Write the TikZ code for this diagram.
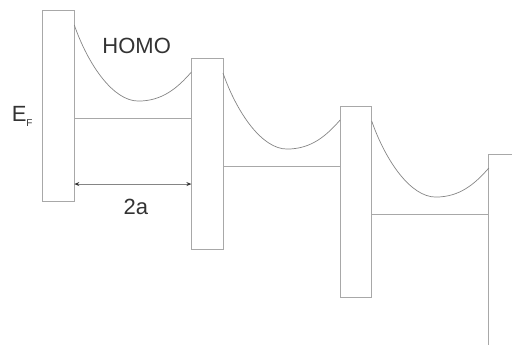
\documentclass[tikz,border=0pt]{standalone}
\usepackage{fontspec}
\setmainfont{Liberation Sans}
\usetikzlibrary{calc,arrows.meta}
\definecolor{boxgray}{HTML}{A8A8A8}
\definecolor{curvegray}{HTML}{858585}
\definecolor{textgray}{HTML}{333333}
\begin{document}
\begin{tikzpicture}[x=1pt,y=-1pt,
  barrier/.style={draw=boxgray,line width=1pt,minimum width=31.6pt,minimum height=191.7pt,inner sep=0pt,outer sep=0pt},
  level/.style={draw=boxgray,line width=1pt},
  curve/.style={draw=curvegray,line width=0.7pt},
  dim/.style={draw=curvegray,line width=0.8pt,{Stealth[length=5pt,width=4pt,color=textgray]}-{Stealth[length=5pt,width=4pt,color=textgray]}},
  lbl/.style={text=textgray,font=\fontsize{22}{26}\selectfont,inner sep=0pt,anchor=base}]
\useasboundingbox (0,0) rectangle (512,345);
\clip (0,0) rectangle (512,345);
\foreach \i in {1,...,4}
  \node[barrier] (b\i) at ({58.5+148.7*(\i-1)},{105.9+48*(\i-1)}) {};
\foreach \i/\j in {1/2,2/3,3/4} {
  \draw[level] ($(b\i.north east)+(0,108)$) coordinate (l\i) -- (l\i -| b\j.west);
  \draw[curve] ($(b\i.north east)+(0,15)$) .. controls +(14,40) and +(-25,0) ..
    ($(b\i.north east)+(64,91)$) coordinate (m\i) .. controls +(24,0) and +(-14,16) ..
    ($(b\j.north west)+(0,14)$);
}
\draw[dim] ($(b1.north east)+(0,174)$) coordinate (a) -- (a -| b2.west);
\node[lbl] (homo) at (136.7,54) {HOMO};
\node[lbl] (twoa) at (135.8,214.3) {2a};
\node[lbl,anchor=base west] (ef) at (11.6,121.7) {E\raisebox{-4.3pt}{\fontsize{10}{12}\selectfont F}};
\end{tikzpicture}
\end{document}
